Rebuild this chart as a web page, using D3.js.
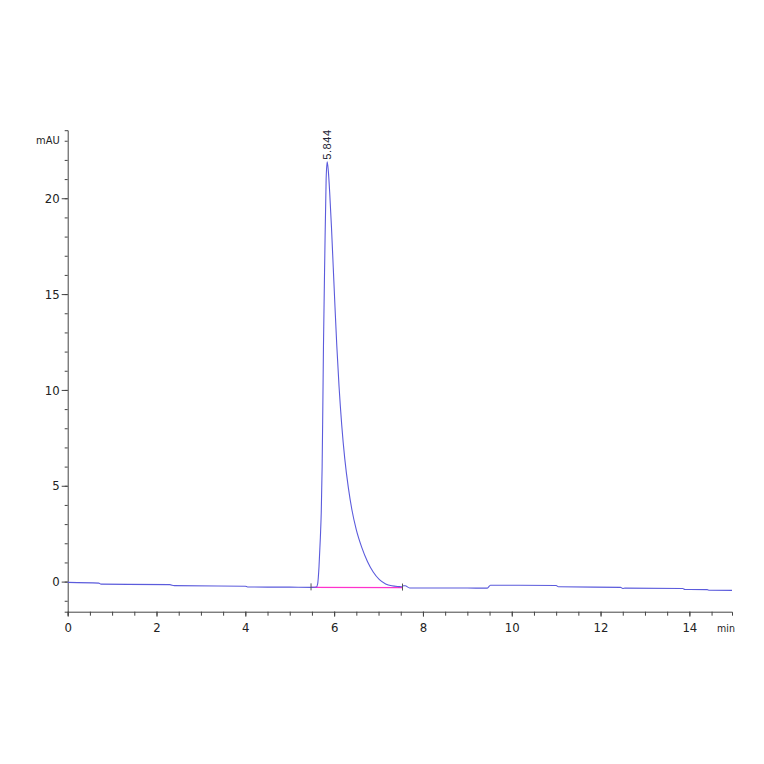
<!DOCTYPE html>
<html><head><meta charset="utf-8">
<script src="https://cdn.jsdelivr.net/npm/d3@7"></script>
<style>
body{margin:0;background:#fff;}
svg{display:block;}
.ax text{font-family:"Liberation Sans Narrow","DejaVu Sans Condensed","Arial Narrow",sans-serif;fill:#222;}
</style></head><body>
<svg id="c" width="764" height="764"></svg>
<script>
// Chromatogram trace: time (min) and signal (mAU)
const traceTime = [0,0.7,0.75,2.3,2.4,4.0,4.05,5.0,5.5,5.6,5.63,5.66,5.69,5.71,5.73,5.745,5.76,5.79,5.82,5.844,5.87,5.90,5.94,5.98,6.02,6.06,6.11,6.17,6.24,6.32,6.40,6.50,6.62,6.75,6.88,7.02,7.16,7.30,7.45,7.52,7.56,7.6,7.7,8.5,9.45,9.52,11.0,11.05,12.45,12.5,12.55,13.85,13.9,14.4,14.45,14.96];
const traceValue = [-0.04,-0.08,-0.13,-0.16,-0.21,-0.24,-0.28,-0.29,-0.30,-0.28,-0.1,0.8,2.3,3.6,6.0,9.0,12.3,17.0,21.0,21.9,21.4,20.3,18.5,16.4,14.3,12.3,10.2,8.2,6.4,4.9,3.75,2.7,1.8,1.05,0.5,0.1,-0.12,-0.22,-0.26,-0.27,-0.22,-0.22,-0.33,-0.33,-0.34,-0.19,-0.2,-0.27,-0.3,-0.36,-0.34,-0.36,-0.41,-0.42,-0.45,-0.46];
// Integration baseline
const baseTime = [5.48, 7.54];
const baseValue = [-0.30, -0.31];
const peakTime = 5.844;
const peakValue = 21.9;
const peakLabel = "5.844";
const xMajor = [0,2,4,6,8,10,12,14];
const xMinor = d3.range(0, 14.96, 0.5);
const yMajor = [0,5,10,15,20];
const yMinor = d3.range(-1, 24, 1);
const xUnit = "min";
const yUnit = "mAU";

const svg = d3.select("#c");
const x = d3.scaleLinear().domain([0,14.96]).range([67.7,732]);
const y = d3.scaleLinear().domain([-1.57,23.55]).range([611.7,130.2]);
const font = 13;

// x axis
const gx = svg.append("g").attr("class","ax").attr("transform",`translate(0,${y(-1.57)})`);
gx.call(d3.axisBottom(x).tickValues(xMinor).tickSize(4).tickFormat(""));
gx.append("g").call(d3.axisBottom(x).tickValues(xMajor).tickSize(5).tickPadding(6).tickFormat(d3.format("d")))
  .call(g=>g.select(".domain").remove());
gx.selectAll("text").attr("font-size",font);
gx.append("text").attr("x",726).attr("y",20).attr("text-anchor","middle").attr("font-size",10.5).text(xUnit);

// y axis
const gy = svg.append("g").attr("class","ax").attr("transform",`translate(${x(0)},0)`);
gy.call(d3.axisLeft(y).tickValues(yMinor).tickSize(3).tickFormat(""));
gy.append("g").call(d3.axisLeft(y).tickValues(yMajor).tickSize(6).tickPadding(2).tickFormat(d3.format("d")))
  .call(g=>g.select(".domain").remove());
gy.selectAll("text").attr("font-size",font);
gy.append("text").attr("x",-8).attr("y",y(23)).attr("dy","0.3em").attr("text-anchor","end").attr("font-size",11).text(yUnit);
svg.selectAll(".ax path, .ax line").attr("stroke","#444");

// baseline
svg.append("path").datum(d3.zip(baseTime, baseValue))
  .attr("d", d3.line().x(d=>x(d[0])).y(d=>y(d[1])))
  .attr("fill","none").attr("stroke","#ff33cc").attr("stroke-width",1.3);

// trace
svg.append("path").datum(d3.zip(traceTime, traceValue))
  .attr("d", d3.line().x(d=>x(d[0])).y(d=>y(d[1])).curve(d3.curveMonotoneX))
  .attr("fill","none").attr("stroke","#5b5bdc").attr("stroke-width",1.1);

// baseline markers
svg.selectAll(".mk").data(baseTime).join("line")
  .attr("x1",d=>x(d)).attr("x2",d=>x(d))
  .attr("y1",(d,i)=>y(baseValue[i])-4).attr("y2",(d,i)=>y(baseValue[i])+3)
  .attr("stroke","#555").attr("stroke-width",1);

// peak label
svg.append("text")
  .attr("transform",`translate(${x(peakTime)},${y(peakValue)-2}) rotate(-90)`)
  .attr("dy","0.35em")
  .attr("font-family","Liberation Sans, Arial, sans-serif")
  .attr("font-size",11).attr("letter-spacing",0.6).attr("fill","#223")
  .text(peakLabel);
</script></body></html>
